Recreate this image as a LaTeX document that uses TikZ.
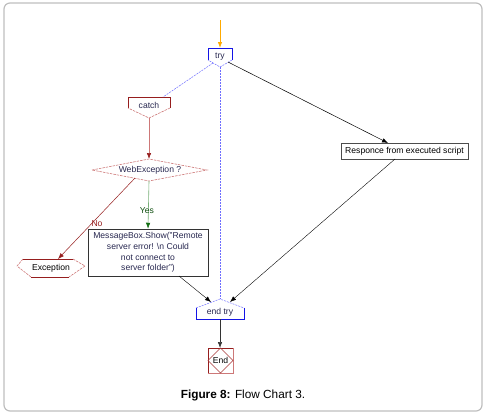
\documentclass[tikz,border=0pt]{standalone}
\usepackage{fontspec}
\setmainfont{Liberation Sans}
\usetikzlibrary{arrows.meta}
\definecolor{tryblue}{RGB}{20,20,230}
\definecolor{dashblue}{RGB}{110,110,255}
\definecolor{dred}{RGB}{150,30,30}
\definecolor{pinkred}{RGB}{205,120,120}
\definecolor{dgreen}{RGB}{20,110,20}
\definecolor{lgreen}{RGB}{120,175,120}
\definecolor{framegray}{RGB}{190,190,190}
\definecolor{orng}{RGB}{255,170,0}
\definecolor{txt}{RGB}{40,40,80}
\begin{document}
\begin{tikzpicture}[x=1pt,y=-1pt,
  lbl/.style={font=\fontsize{8.6}{10.5}\selectfont, inner sep=0pt, text=txt},
  arr/.style={-{Latex[length=6pt,width=4.5pt]}},
  solidb/.style={tryblue, line width=0.7pt},
  lightb/.style={dashblue, line width=0.5pt, dash pattern=on 2pt off 1pt},
  solidr/.style={dred, line width=0.7pt},
  lightr/.style={pinkred, line width=0.6pt, dash pattern=on 2.5pt off 1pt},
  ]
\useasboundingbox (0,0) rectangle (486,416);
\draw[framegray, line width=1.2pt, rounded corners=6pt] (4,3) rectangle (482,411);

% coordinates
\coordinate (start) at (220,20);
\coordinate (tryT) at (220,48);
\coordinate (tryB) at (220,67);
\coordinate (tryL) at (213,63);
\coordinate (tryR) at (228,62);
\coordinate (catchTR) at (163,97);
\coordinate (catchB) at (149,118);
\coordinate (dTop) at (149,159);
\coordinate (dBot) at (149,181);
\coordinate (dLL) at (135,178);
\coordinate (excT) at (58,259);
\coordinate (etT) at (220,299);
\coordinate (etL) at (211,302);
\coordinate (etR) at (230,302);
\coordinate (etB) at (220,319);
\coordinate (endT) at (220,348);

% try
\draw[solidb] (208,60) -- (208,48) -- (232,48) -- (232,60);
\draw[lightb] (232,60) -- (tryB) -- (208,60);
\node[lbl] (try) at (220,57) {try};

% catch
\draw[solidr] (128,108) -- (128,97) -- (170,97) -- (170,108);
\draw[lightr] (170,108) -- (catchB) -- (128,108);
\node[lbl] (catch) at (149,105) {catch};

% diamond
\draw[lightr] (92,170) -- (dTop) -- (207,170) -- (dBot) -- cycle;
\node[lbl] (webex) at (150,170) {WebException ?};

% exception
\draw[solidr] (23,259) -- (73,259);
\draw[solidr] (31,277) -- (69,277);
\draw[lightr] (23,259) -- (17,266) -- (31,277);
\draw[lightr] (73,259) -- (85,266) -- (69,277);
\node[lbl, text=black] (exc) at (51,268) {Exception};

% message box
\node[draw=black!80, line width=0.5pt, minimum width=120pt, minimum height=47pt, inner sep=0pt, align=center,
  font=\fontsize{8.6}{10.8}\selectfont, text=txt] (msg) at (148,252.5)
  {MessageBox.Show("Remote\\server error! \textbackslash n Could\\not connect to\\server folder")};
\coordinate (msgBR) at (179,276);

% response
\node[draw=black!70, line width=0.5pt, minimum width=127pt, minimum height=16pt, inner sep=0pt,
  font=\fontsize{8.6}{10}\selectfont, text=black] (resp) at (404.5,151) {Responce from executed script};
\coordinate (respT) at (388,143);
\coordinate (respB) at (395,159);

% end try
\draw[lightb] (196,308) -- (etT) -- (244,308);
\draw[solidb] (196,308) -- (196,319) -- (244,319) -- (244,308);
\node[lbl] (endtry) at (220,312.5) {end try};

% End
\draw[dred, line width=0.7pt] (208,373) -- (208,348) -- (233,348);
\draw[pinkred, line width=0.7pt] (233,348) -- (233,373) -- (208,373);
\draw[dred!70!pinkred, line width=0.5pt] (220.5,348) -- (233,360.5) -- (220.5,373) -- (208,360.5) -- cycle;
\node[lbl, text=black] (endn) at (220.5,360.5) {End};

% connectors
\draw[orng, line width=0.8pt, arr] (start) -- (tryT);
\draw[lightb] (tryB) -- (etT);
\draw[lightb] (tryL) -- (catchTR);
\draw[black, line width=0.5pt, arr] (tryR) -- (respT);
\draw[pinkred, line width=0.6pt, -{Latex[length=6pt,width=4.5pt,color=dred]}] (catchB) -- (dTop);
\draw[lgreen, line width=0.6pt, -{Latex[length=6pt,width=4.5pt,color=dgreen]}] (dBot) -- (msg.north);
\draw[dred, line width=0.5pt, arr] (dLL) -- (excT);
\draw[black, line width=0.4pt, arr] (msgBR) -- (etL);
\draw[black, line width=0.4pt, arr] (respB) -- (etR);
\draw[black!80, line width=0.6pt, arr] (etB) -- (endT);

% labels
\node[lbl, text=dgreen!70!black] (yes) at (147,211) {Yes};
\node[lbl, text=dred] (no) at (97,224) {No};

% caption
\node[inner sep=0pt, font=\fontsize{11.8}{13}\selectfont] (cap) at (243,395) {\textbf{Figure 8:} Flow Chart 3.};
\end{tikzpicture}
\end{document}
